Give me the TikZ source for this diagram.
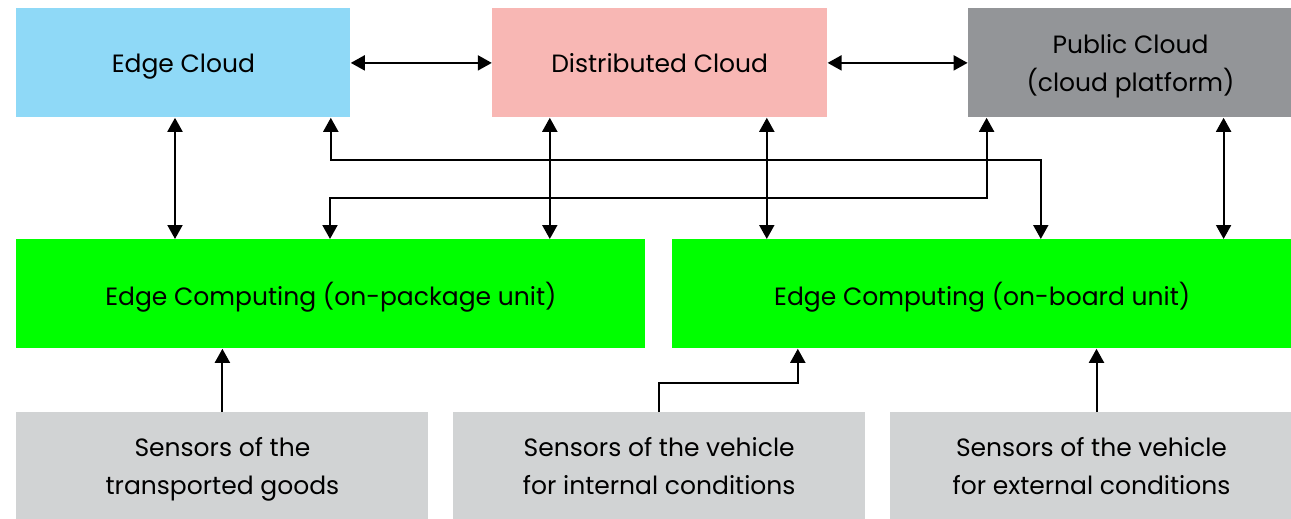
\documentclass[tikz,border=0pt]{standalone}
\usepackage{fontspec}
\setmainfont{Poppins}
\usepackage{tikz}
\usetikzlibrary{arrows.meta, positioning}
\usepackage{xcolor}
\definecolor{edgeblue}{HTML}{8FD9F7}
\definecolor{distpink}{HTML}{F8B7B4}
\definecolor{pubgray}{HTML}{939598}
\definecolor{sensgray}{HTML}{D1D3D4}
\definecolor{ecgreen}{HTML}{00FF00}

\begin{document}
\begin{tikzpicture}[
    x=0.5pt, y=-0.5pt,
    block/.style={rectangle, inner sep=0pt, align=center, text depth=0pt, minimum height=54.5pt, font=\fontsize{12.5}{19}\selectfont},
    line/.style={draw, line width=1pt, -{Triangle[length=7pt,width=7.5pt]}},
    both/.style={line, {Triangle[length=7pt,width=7.5pt]}-{Triangle[length=7pt,width=7.5pt]}}
]
    \useasboundingbox (0,0) rectangle (1291,519);
    % Nodes
    \node (edge) [block, fill=edgeblue, minimum width=167pt, anchor=north west] at (16,8) {Edge Cloud};
    \node (dist) [block, fill=distpink, minimum width=167.5pt, right=70.5pt of edge] {Distributed Cloud};
    \node (pub) [block, fill=pubgray, minimum width=162.5pt, right=70pt of dist] {Public Cloud\\(cloud platform)};
    \node (ecpack) [block, fill=ecgreen, minimum width=314.5pt, anchor=north west] at (16,239) {Edge Computing (on-package unit)};
    \node (ecboard) [block, fill=ecgreen, minimum width=310pt, right=13pt of ecpack] {Edge Computing (on-board unit)};
    \node (goods) [block, fill=sensgray, minimum width=206pt, minimum height=53.5pt, anchor=north west] at (16,412) {Sensors of the\\transported goods};
    \node (internal) [block, fill=sensgray, minimum width=206pt, minimum height=53.5pt, right=12pt of goods] {Sensors of the vehicle\\for internal conditions};
    \node (external) [block, fill=sensgray, minimum width=201.5pt, minimum height=53.5pt, right=12pt of internal] {Sensors of the vehicle\\for external conditions};
    \coordinate (upper) at (0,160);
    \coordinate (lower) at (0,198);
    \coordinate (step) at (0,383);

    % Paths
    \path [both] (edge) -- (dist);
    \path [both] (dist) -- (pub);
    \path [both] ([xshift=79.5pt]edge.south west) coordinate (a) -- (a |- ecpack.north);
    \path [both] ([xshift=-10pt]edge.south east) coordinate (b) -- (b |- upper) -| ([xshift=184.5pt]ecboard.north west);
    \path [both] ([xshift=157pt]ecpack.north west) coordinate (c) -- (c |- lower) -| ([xshift=9.5pt]pub.south west);
    \path [both] ([xshift=29pt]dist.south west) coordinate (d) -- (d |- ecpack.north);
    \path [both] ([xshift=137.5pt]dist.south west) coordinate (e) -- (e |- ecboard.north);
    \path [both] ([xshift=128pt]pub.south west) coordinate (f) -- (f |- ecboard.north);
    \path [line] (goods) -- (goods |- ecpack.south);
    \path [line] (internal.north) -- (internal.north |- step) -| ([xshift=63pt]ecboard.south west);
    \path [line] ([xshift=2.5pt]external.north) coordinate (g) -- (g |- ecboard.south);
\end{tikzpicture}
\end{document}
